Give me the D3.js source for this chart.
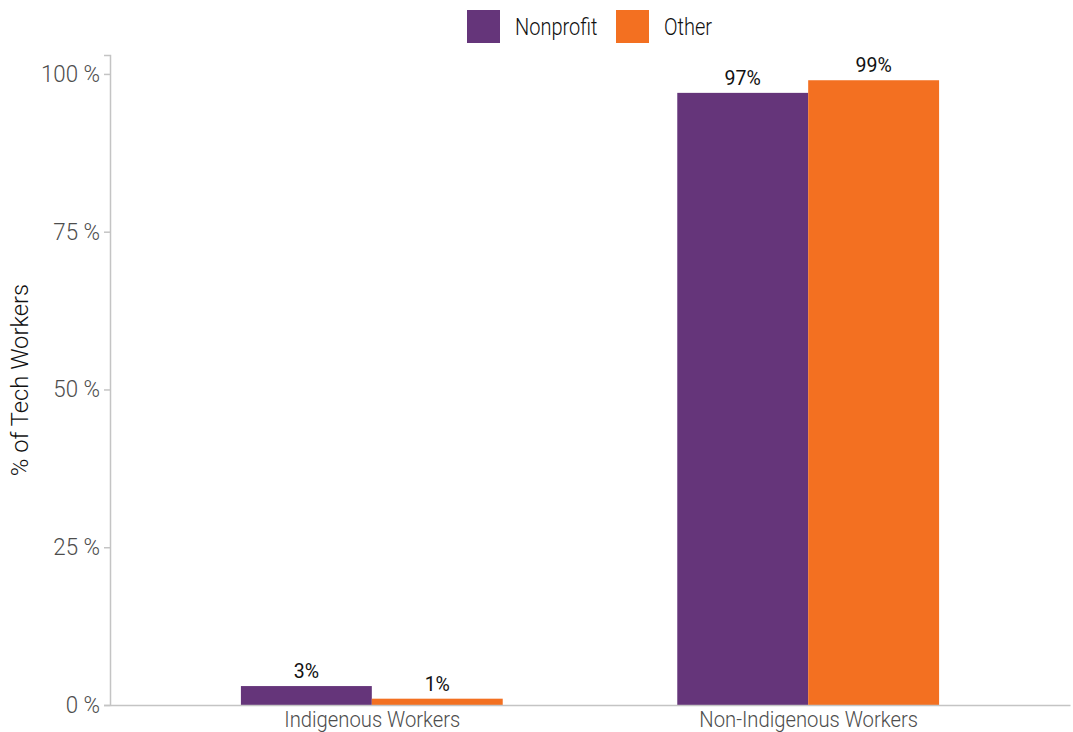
<!DOCTYPE html>
<html>
<head>
<meta charset="utf-8">
<script src="https://cdn.jsdelivr.net/npm/d3@7"></script>
<style>
  body { margin: 0; background: #fff; }
  text { font-family: "Roboto", sans-serif; }
</style>
</head>
<body>
<div id="chart"></div>
<script>
// data
const groups = ["Indigenous Workers", "Non-Indigenous Workers"];
const sectors = ["Nonprofit", "Other"];
const nonprofitVals = [3, 97];
const otherVals = [1, 99];
const yTicks = [0, 25, 50, 75, 100];
const colors = ["#65357a", "#f37021"];

const W = 1073, H = 732;
const margin = { top: 55, right: 3, bottom: 27, left: 110 };
const width = W - margin.left - margin.right;
const height = H - margin.top - margin.bottom;

const data = [];
groups.forEach((g, i) => {
  data.push({ group: g, sector: "Nonprofit", value: nonprofitVals[i] });
  data.push({ group: g, sector: "Other", value: otherVals[i] });
});

// squeeze text horizontally to mimic a condensed face
function condense(sel, f) {
  sel.each(function() {
    const len = this.getComputedTextLength();
    d3.select(this).attr("textLength", len * f).attr("lengthAdjust", "spacingAndGlyphs");
  });
}

const svg = d3.select("#chart")
  .append("svg")
  .attr("width", W)
  .attr("height", H);

const chart = svg.append("g")
  .attr("transform", "translate(" + margin.left + "," + margin.top + ")");

const x = d3.scalePoint()
  .domain(groups)
  .range([0, width])
  .padding(0.6);

const step = x.step();
const xSub = d3.scaleBand()
  .domain(sectors)
  .range([-0.3 * step, 0.3 * step]);

const y = d3.scaleLinear()
  .domain([0, 103])
  .range([height, 0]);

const color = d3.scaleOrdinal().domain(sectors).range(colors);

// y axis
const yAxis = chart.append("g")
  .call(d3.axisLeft(y).tickValues(yTicks).tickFormat(d => d + " %").tickSize(6).tickPadding(4));
yAxis.select(".domain").attr("stroke", "#c4c4c4").attr("stroke-width", 1.5);
yAxis.selectAll(".tick line").attr("stroke", "#c4c4c4").attr("stroke-width", 1.5);
yAxis.selectAll("text")
  .attr("fill", "#4d4d4d")
  .style("font-size", "23px")
  .style("font-weight", 300)
  .call(condense, 0.97);

// bars
chart.selectAll(".bar")
  .data(data)
  .join("rect")
    .attr("class", "bar")
    .attr("x", d => x(d.group) + xSub(d.sector))
    .attr("y", d => y(d.value))
    .attr("width", xSub.bandwidth())
    .attr("height", d => height - y(d.value))
    .attr("fill", d => color(d.sector));

// value labels
chart.selectAll(".lbl")
  .data(data)
  .join("text")
    .attr("class", "lbl")
    .attr("x", d => x(d.group) + xSub(d.sector) + xSub.bandwidth() / 2)
    .attr("y", d => y(d.value) - 8)
    .attr("text-anchor", "middle")
    .attr("fill", "#111")
    .style("font-size", "21px")
    .text(d => d.value + "%")
    .call(condense, 0.93);

// x axis
const xAxis = chart.append("g")
  .attr("transform", "translate(0," + height + ")")
  .call(d3.axisBottom(x).tickSize(0).tickPadding(6));
xAxis.select(".domain").attr("stroke", "#c4c4c4").attr("stroke-width", 1.5);
xAxis.selectAll("text")
  .attr("fill", "#4d4d4d")
  .style("font-size", "22px")
  .style("font-weight", 300)
  .call(condense, 0.92);

// y title
svg.append("text")
  .attr("transform", "translate(28," + (margin.top + height / 2) + ") rotate(-90)")
  .attr("text-anchor", "middle")
  .attr("fill", "#111")
  .style("font-size", "24px")
  .style("font-weight", 300)
  .text("% of Tech Workers")
  .call(condense, 0.99);

// legend
const legend = svg.append("g").attr("transform", "translate(467,10)");
const legX = [0, 149];
sectors.forEach((s, i) => {
  const lg = legend.append("g").attr("transform", "translate(" + legX[i] + ",0)");
  lg.append("rect").attr("width", 33).attr("height", 33).attr("fill", color(s));
  lg.append("text")
    .attr("x", 48)
    .attr("y", 25)
    .attr("fill", "#111")
    .style("font-size", "23px")
    .style("font-weight", 300)
    .text(s)
    .call(condense, 0.87);
});
</script>
</body>
</html>
